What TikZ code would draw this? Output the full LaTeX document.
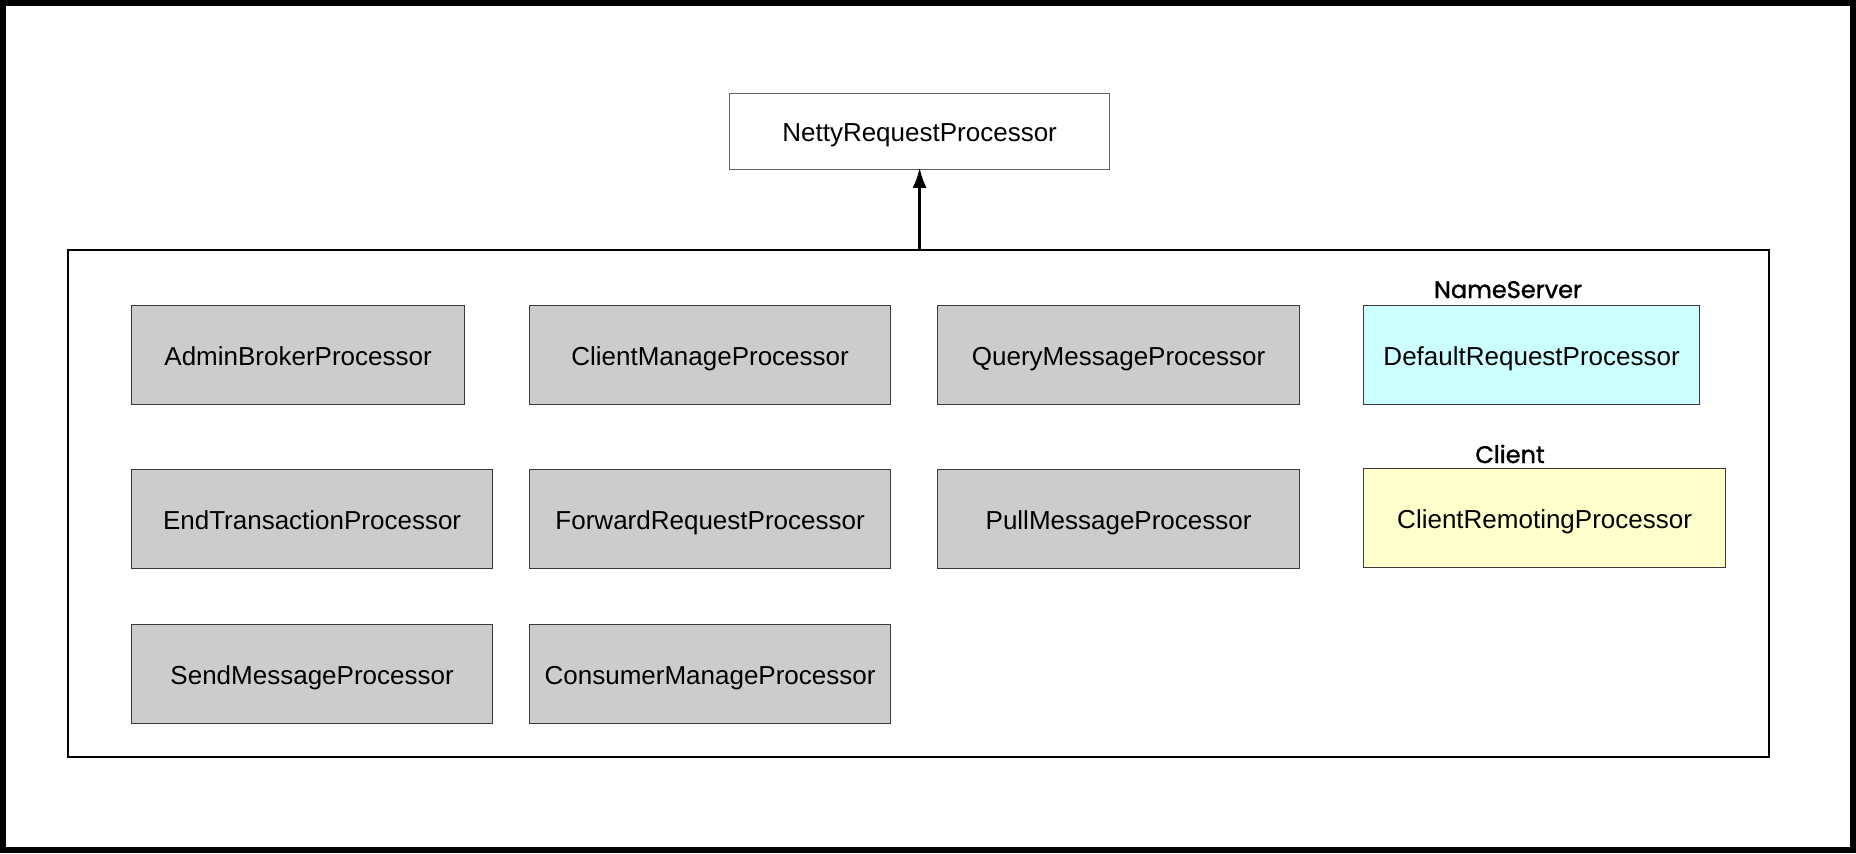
\documentclass[tikz,border=0pt]{standalone}
\usepackage{fontspec}
\usepackage{tikz}
\usetikzlibrary{positioning,arrows.meta,fit}
\newfontfamily\boxfont{Liberation Sans}
\newfontfamily\headfont[FakeBold=1.4]{Poppins}
\definecolor{ink}     {HTML}{000000}
\definecolor{edge}    {HTML}{3A3A3A}
\definecolor{procgray}{HTML}{CCCCCC}
\definecolor{nscyan}  {HTML}{CCFFFF}
\definecolor{clyellow}{HTML}{FFFFCC}
\tikzset{
  >=stealth,
  % --- nodes
  proc/.style   = {draw=edge, fill=procgray, line width=0.6pt, anchor=north west,
                   minimum height=49.5pt, inner sep=0pt, text height=12pt, text depth=2pt,
                   font=\boxfont\fontsize{13}{15}\selectfont},
  base/.style   = {proc, fill=white, draw=edge!80, minimum height=38pt},
  ns/.style     = {proc, fill=nscyan},
  cl/.style     = {proc, fill=clyellow},
  group/.style  = {draw=ink, line width=0.6pt, inner sep=0pt},
  head/.style   = {font=\headfont\fontsize{12}{14}\selectfont, anchor=base},
  % --- edges
  inh/.style    = {-{Latex[length=10pt,width=7pt]}, line width=1.3pt, draw=ink,
                   shorten >=-1.2pt},
}
\begin{document}
\begin{tikzpicture}[x=0.5pt,y=-0.5pt]
  \useasboundingbox (0,0) rectangle (1856,853);
  \fill[white] (0,0) rectangle (1856,853);
  \draw[ink,line width=3pt] (3,3.25) rectangle (1853,849.75);

  % super class
  \node[base, minimum width=380*0.5pt] (netty) at (729,93) {NettyRequestProcessor};

  % container of the implementations
  \coordinate (groupnw) at (68,250);
  \coordinate (groupse) at (1769,757);
  \node[group, fit=(groupnw)(groupse)] (impl) {};

  % broker processors
  \foreach \id/\x/\y/\w/\name in {
    admin/131/305/333/AdminBrokerProcessor,
    climgr/529/305/361/ClientManageProcessor,
    query/937/305/362/QueryMessageProcessor,
    endtx/131/469/361/EndTransactionProcessor,
    fwd/529/469/361/ForwardRequestProcessor,
    pull/937/469/362/PullMessageProcessor,
    send/131/624/361/SendMessageProcessor,
    conmgr/529/624/361/ConsumerManageProcessor}
  {
    \node[proc, minimum width=\w*0.5pt] (\id) at (\x,\y) {\name};
  }

  % name server and client
  \node[ns, minimum width=336*0.5pt] (defreq) at (1363,305) {DefaultRequestProcessor};
  \node[cl, minimum width=362*0.5pt] (remoting) at (1363,468) {ClientRemotingProcessor};
  \node[head] (nslbl) at (1508,298) {NameServer};
  \node[head] (cllbl) at (1510,463) {Client};

  \draw[inh] (impl.north -| netty) -- (netty);
\end{tikzpicture}
\end{document}
